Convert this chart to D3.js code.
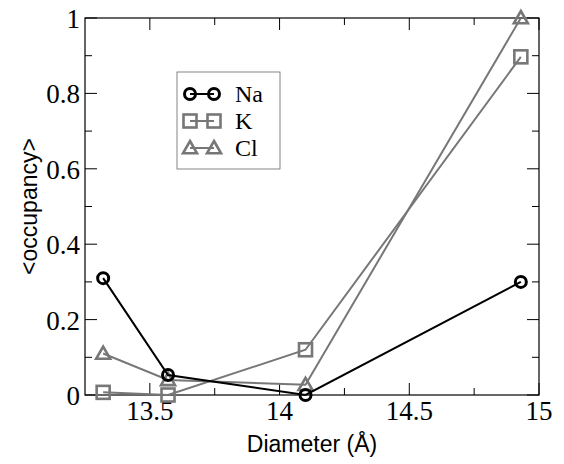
<!DOCTYPE html>
<html>
<head>
<meta charset="utf-8">
<script src="https://cdn.jsdelivr.net/npm/d3@7"></script>
<style>
  body { margin: 0; background: #fff; }
  svg { display: block; }
</style>
</head>
<body>
<div id="chart"></div>
<script>
// chart values
var diameters = [13.32, 13.57, 14.1, 14.93];
var naValues = [0.31, 0.053, 0, 0.3];
var kValues = [0.007, 0, 0.12, 0.897];
var clValues = [0.11, 0.04, 0.027, 1.0];
var seriesNames = ["Na", "K", "Cl"];
var xTicks = [13.5, 14, 14.5, 15];
var yTicks = [0, 0.2, 0.4, 0.6, 0.8, 1];

var width = 564, height = 464;
var margin = { top: 18, right: 25, bottom: 69, left: 85 };

var svg = d3.select("#chart")
    .append("svg")
    .attr("width", width)
    .attr("height", height);

var x = d3.scaleLinear()
    .domain([13.25, 15])
    .range([margin.left, width - margin.right]);

var y = d3.scaleLinear()
    .domain([0, 1])
    .range([height - margin.bottom, margin.top]);

var x0 = x.range()[0], x1 = x.range()[1];
var y0 = y.range()[0], y1 = y.range()[1];

var serif = "'Liberation Serif', 'Times New Roman', serif";

// ticks, drawn inward on all four sides
var ticks = svg.append("g").attr("stroke", "#000").attr("stroke-width", 1);
var xMinor = [13.75, 14.25, 14.75];
var yMinor = [0.1, 0.3, 0.5, 0.7, 0.9];

xTicks.concat(xMinor).forEach(function(v) {
    var len = xMinor.indexOf(v) >= 0 ? 7 : 12;
    ticks.append("line").attr("x1", x(v)).attr("x2", x(v)).attr("y1", y0).attr("y2", y0 - len);
    ticks.append("line").attr("x1", x(v)).attr("x2", x(v)).attr("y1", y1).attr("y2", y1 + len);
});
yTicks.concat(yMinor).forEach(function(v) {
    var len = yMinor.indexOf(v) >= 0 ? 7 : 12;
    ticks.append("line").attr("y1", y(v)).attr("y2", y(v)).attr("x1", x0).attr("x2", x0 + len);
    ticks.append("line").attr("y1", y(v)).attr("y2", y(v)).attr("x1", x1).attr("x2", x1 - len);
});

// frame
svg.append("rect")
    .attr("x", x0).attr("y", y1)
    .attr("width", x1 - x0).attr("height", y0 - y1)
    .attr("fill", "none")
    .attr("stroke", "#000")
    .attr("stroke-width", 1.2);

// tick labels
svg.append("g").selectAll("text")
    .data(xTicks)
    .enter().append("text")
    .attr("x", d => x(d))
    .attr("y", y0 + 25)
    .attr("text-anchor", "middle")
    .style("font-family", serif)
    .style("font-size", "27px")
    .text(d => d);

svg.append("g").selectAll("text")
    .data(yTicks)
    .enter().append("text")
    .attr("x", x0 - 5)
    .attr("y", d => y(d) + 10)
    .attr("text-anchor", "end")
    .style("font-family", serif)
    .style("font-size", "27px")
    .text(d => d);

// axis titles
svg.append("text")
    .attr("x", (x0 + x1) / 2)
    .attr("y", 452)
    .attr("text-anchor", "middle")
    .style("font-family", "'Liberation Sans', Arial, sans-serif")
    .style("font-size", "23px")
    .text("Diameter (Å)");

svg.append("text")
    .attr("transform", "translate(37," + ((y0 + y1) / 2) + ") rotate(-90)")
    .attr("text-anchor", "middle")
    .style("font-family", "'Liberation Sans', Arial, sans-serif")
    .style("font-size", "23px")
    .text("<occupancy>");

var series = [
    { name: "Na", values: naValues, color: "#000", shape: "circle", lw: 2 },
    { name: "K", values: kValues, color: "#777", shape: "square", lw: 2 },
    { name: "Cl", values: clValues, color: "#777", shape: "triangle", lw: 2 }
];

function drawMarker(g, shape, cx, cy, color) {
    if (shape === "circle") {
        g.append("circle").attr("cx", cx).attr("cy", cy).attr("r", 5.5)
            .attr("fill", "none").attr("stroke", color).attr("stroke-width", 3);
    } else if (shape === "square") {
        g.append("rect").attr("x", cx - 6.5).attr("y", cy - 6.5).attr("width", 13).attr("height", 13)
            .attr("fill", "none").attr("stroke", color).attr("stroke-width", 2.6);
    } else {
        var h = 7;
        g.append("path")
            .attr("d", "M" + cx + "," + (cy - h) + "L" + (cx + h) + "," + (cy + h * 0.75) + "L" + (cx - h) + "," + (cy + h * 0.75) + "Z")
            .attr("fill", "none").attr("stroke", color).attr("stroke-width", 2.6)
            .attr("stroke-linejoin", "miter");
    }
}

var line = d3.line()
    .x(d => x(d[0]))
    .y(d => y(d[1]));

// draw in reverse order so Na sits on top
series.slice().reverse().forEach(function(s) {
    var pts = diameters.map((d, i) => [d, s.values[i]]);
    var g = svg.append("g");
    g.append("path")
        .attr("d", line(pts))
        .attr("fill", "none")
        .attr("stroke", s.color)
        .attr("stroke-width", s.lw);
    pts.forEach(function(p) {
        drawMarker(g, s.shape, x(p[0]), y(p[1]), s.color);
    });
});

// legend
var legend = svg.append("g");
legend.append("rect")
    .attr("x", 177).attr("y", 72)
    .attr("width", 103).attr("height", 97)
    .attr("fill", "#fff")
    .attr("stroke", "#666")
    .attr("stroke-width", 0.8);

series.forEach(function(s, i) {
    var ly = 94 + i * 27;
    legend.append("line")
        .attr("x1", 190).attr("x2", 214)
        .attr("y1", ly).attr("y2", ly)
        .attr("stroke", s.color).attr("stroke-width", s.lw);
    drawMarker(legend, s.shape, 190, ly, s.color);
    drawMarker(legend, s.shape, 214, ly, s.color);
    legend.append("text")
        .attr("x", 235)
        .attr("y", ly + 8)
        .style("font-family", serif)
        .style("font-size", "24px")
        .text(s.name);
});
</script>
</body>
</html>
